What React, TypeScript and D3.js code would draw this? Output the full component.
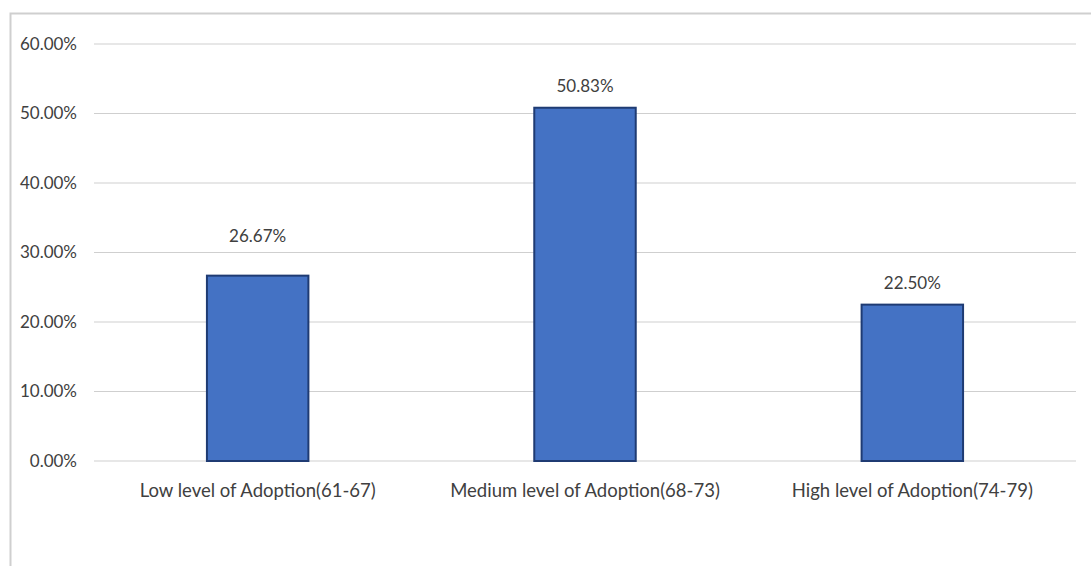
import React from "react";
import * as d3 from "d3";

const categories = [
  "Low level of Adoption(61-67)",
  "Medium level of Adoption(68-73)",
  "High level of Adoption(74-79)",
];
const values = [26.67, 50.83, 22.5];
const yTicks = [0, 10, 20, 30, 40, 50, 60];

const W = 1091;
const H = 566;
const margin = { left: 94, right: 15, top: 44, bottom: 105 };
const font = "Lato, 'Open Sans', sans-serif";

export default function App() {
  const x = d3
    .scaleBand<string>()
    .domain(categories)
    .range([margin.left, W - margin.right])
    .paddingInner(0.69)
    .paddingOuter(0.345);
  const y = d3.scaleLinear().domain([0, 60]).range([H - margin.bottom, margin.top]);

  const labelY = (v: number) => {
    let ly = y(v) - 22;
    for (const t of yTicks) {
      if (Math.abs(ly - y(t)) < 8) ly = y(t) - 16;
    }
    return ly;
  };

  return (
    <svg
      width={W}
      height={H}
      style={{ position: "absolute", left: 0, top: 0, background: "#fff" }}
    >
      <path d={`M10.5,${H} V13.5 H${W}`} fill="none" stroke="#cfcfcf" strokeWidth={2} />
      {yTicks.map((t) => (
        <g key={t}>
          <line
            x1={margin.left}
            x2={W - margin.right}
            y1={y(t)}
            y2={y(t)}
            stroke="#cfcfcf"
            strokeWidth={1.2}
          />
          <text
            x={77}
            y={y(t)}
            dy="0.35em"
            textAnchor="end"
            fontFamily={font}
            fontSize={17}
            fill="#404040"
          >
            {t.toFixed(2)}%
          </text>
        </g>
      ))}
      {categories.map((c, i) => {
        const bx = x(c)!;
        const bw = x.bandwidth();
        const v = values[i];
        return (
          <g key={c}>
            <rect
              x={bx}
              y={y(v)}
              width={bw}
              height={y(0) - y(v)}
              fill="#4472c4"
              stroke="#1f3b73"
              strokeWidth={2}
            />
            <text
              x={bx + bw / 2}
              y={labelY(v)}
              dy="0.35em"
              textAnchor="middle"
              fontFamily={font}
              fontSize={17}
              fill="#404040"
            >
              {v.toFixed(2)}%
            </text>
            <text
              x={bx + bw / 2}
              y={y(0) + 30}
              dy="0.35em"
              textAnchor="middle"
              fontFamily={font}
              fontSize={18.5}
              fill="#404040"
            >
              {c}
            </text>
          </g>
        );
      })}
    </svg>
  );
}
